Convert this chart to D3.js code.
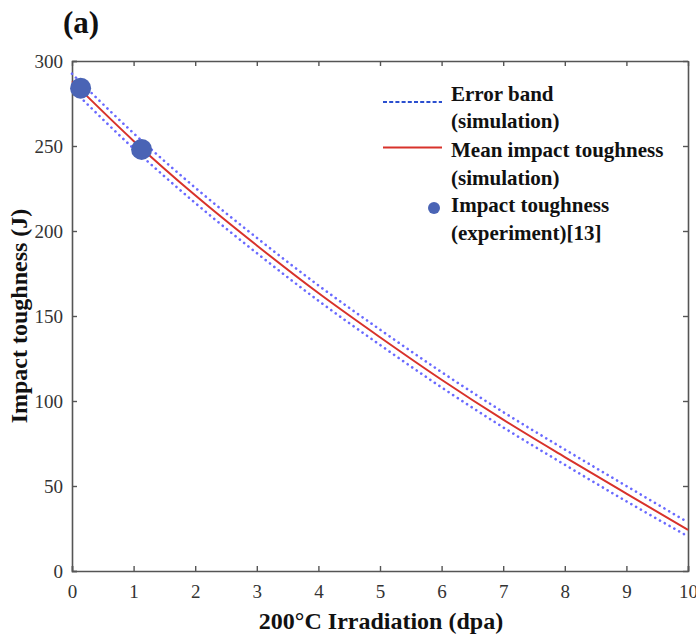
<!DOCTYPE html>
<html><head><meta charset="utf-8">
<script src="https://cdn.jsdelivr.net/npm/d3@7"></script>
<style>body{margin:0;background:#fff}svg{display:block}</style>
</head><body>
<script>
// Data
const dpa        = [0, 1, 2, 3, 4, 5, 6, 7, 8, 9, 10];
const meanTough  = [288, 253, 221, 191.5, 163.5, 137.5, 112.5, 89, 67, 45.5, 24.2];
const upperBand  = [292.5, 257.5, 225.5, 196, 168, 142, 117, 93.5, 71.5, 50, 28.6];
const lowerBand  = [283.5, 248.5, 216.5, 187, 159, 133, 108, 84.5, 62.5, 41, 20.4];
const expDpa     = [0.14, 1.13];
const expTough   = [284, 248];
const xTicks     = [0,1,2,3,4,5,6,7,8,9,10];
const yTicks     = [0,50,100,150,200,250,300];
const legendLabels = [["Error band","(simulation)"],["Mean impact toughness","(simulation)"],["Impact toughness","(experiment)[13]"]];

const W = 696, H = 638;
const m = {left:72, right:8, top:61, bottom:67};
const svg = d3.select("body").append("svg").attr("width",W).attr("height",H);
const x = d3.scaleLinear().domain([0,10]).range([m.left, W-m.right]);
const y = d3.scaleLinear().domain([0,300]).range([H-m.bottom, m.top]);
const font = "'Liberation Serif','Times New Roman',serif";
const axCol = "#555";

function styleAxis(g, labels){
  g.select(".domain").attr("stroke",axCol).attr("stroke-width",1.6);
  g.selectAll(".tick line").attr("stroke",axCol).attr("stroke-width",1.4);
  g.selectAll(".tick text").attr("fill","#333").style("font-family",font).style("font-size","19px");
  if(!labels) g.selectAll(".tick text").remove();
}
svg.append("g").attr("transform",`translate(0,${y(0)})`)
  .call(d3.axisBottom(x).tickValues(xTicks).tickSize(-5).tickPadding(14).tickFormat(d3.format("d")))
  .call(g=>styleAxis(g,true));
svg.append("g").attr("transform",`translate(0,${y(300)})`)
  .call(d3.axisTop(x).tickValues(xTicks).tickSize(-5).tickSizeOuter(0))
  .call(g=>styleAxis(g,false));
svg.append("g").attr("transform",`translate(${x(0)},0)`)
  .call(d3.axisLeft(y).tickValues(yTicks).tickSize(-5).tickPadding(9))
  .call(g=>styleAxis(g,true));
svg.append("g").attr("transform",`translate(${x(10)},0)`)
  .call(d3.axisRight(y).tickValues(yTicks).tickSize(-5).tickSizeOuter(0))
  .call(g=>styleAxis(g,false));

const line = arr => d3.line().x((d,i)=>x(dpa[i])).y(d=>y(d)).curve(d3.curveMonotoneX)(arr);
[upperBand, lowerBand].forEach(b=>{
  svg.append("path").attr("d",line(b)).attr("fill","none")
    .attr("stroke","#6a6aff").attr("stroke-width",2.6)
    .attr("stroke-dasharray","0.1 5.4").attr("stroke-linecap","round");
});
svg.append("path").attr("d",line(meanTough)).attr("fill","none")
  .attr("stroke","#d8322b").attr("stroke-width",2);

svg.selectAll("circle.exp").data(expDpa).join("circle").attr("class","exp")
  .attr("cx",d=>x(d)).attr("cy",(d,i)=>y(expTough[i])).attr("r",10.5)
  .attr("fill","#4a64b5");

// legend
const lg = svg.append("g");
const lx0 = 383, lx1 = 442, tx = 451;
const rows = [100.5, 157, 212];
lg.append("line").attr("x1",lx0).attr("x2",lx1).attr("y1",rows[0]+1.5).attr("y2",rows[0]+1.5)
  .attr("stroke","#2b4fcf").attr("stroke-width",2).attr("stroke-dasharray","4 2.2");
lg.append("line").attr("x1",lx0).attr("x2",lx1).attr("y1",rows[1]-9.5).attr("y2",rows[1]-9.5)
  .attr("stroke","#d8322b").attr("stroke-width",2);
lg.append("circle").attr("cx",434).attr("cy",rows[2]-4).attr("r",6).attr("fill","#4a64b5");
legendLabels.forEach((lab,i)=>{
  lab.forEach((t,j)=>{
    lg.append("text").attr("x",tx).attr("y",rows[i]+j*27.5).text(t)
      .style("font-family",font).style("font-weight","bold").style("font-size","21px").attr("fill","#111");
  });
});

svg.append("text").attr("x",381).attr("y",629).attr("text-anchor","middle")
  .text("200°C Irradiation (dpa)").style("font-family",font).style("font-weight","bold").style("font-size","24px").attr("fill","#111");
svg.append("text").attr("transform",`translate(27,${(y(0)+y(300))/2}) rotate(-90)`).attr("text-anchor","middle")
  .text("Impact toughness (J)").style("font-family",font).style("font-weight","bold").style("font-size","24px").attr("fill","#111");
svg.append("text").attr("x",63).attr("y",33).text("(a)")
  .style("font-family",font).style("font-weight","bold").style("font-size","31px").attr("fill","#111");
</script>
</body></html>
